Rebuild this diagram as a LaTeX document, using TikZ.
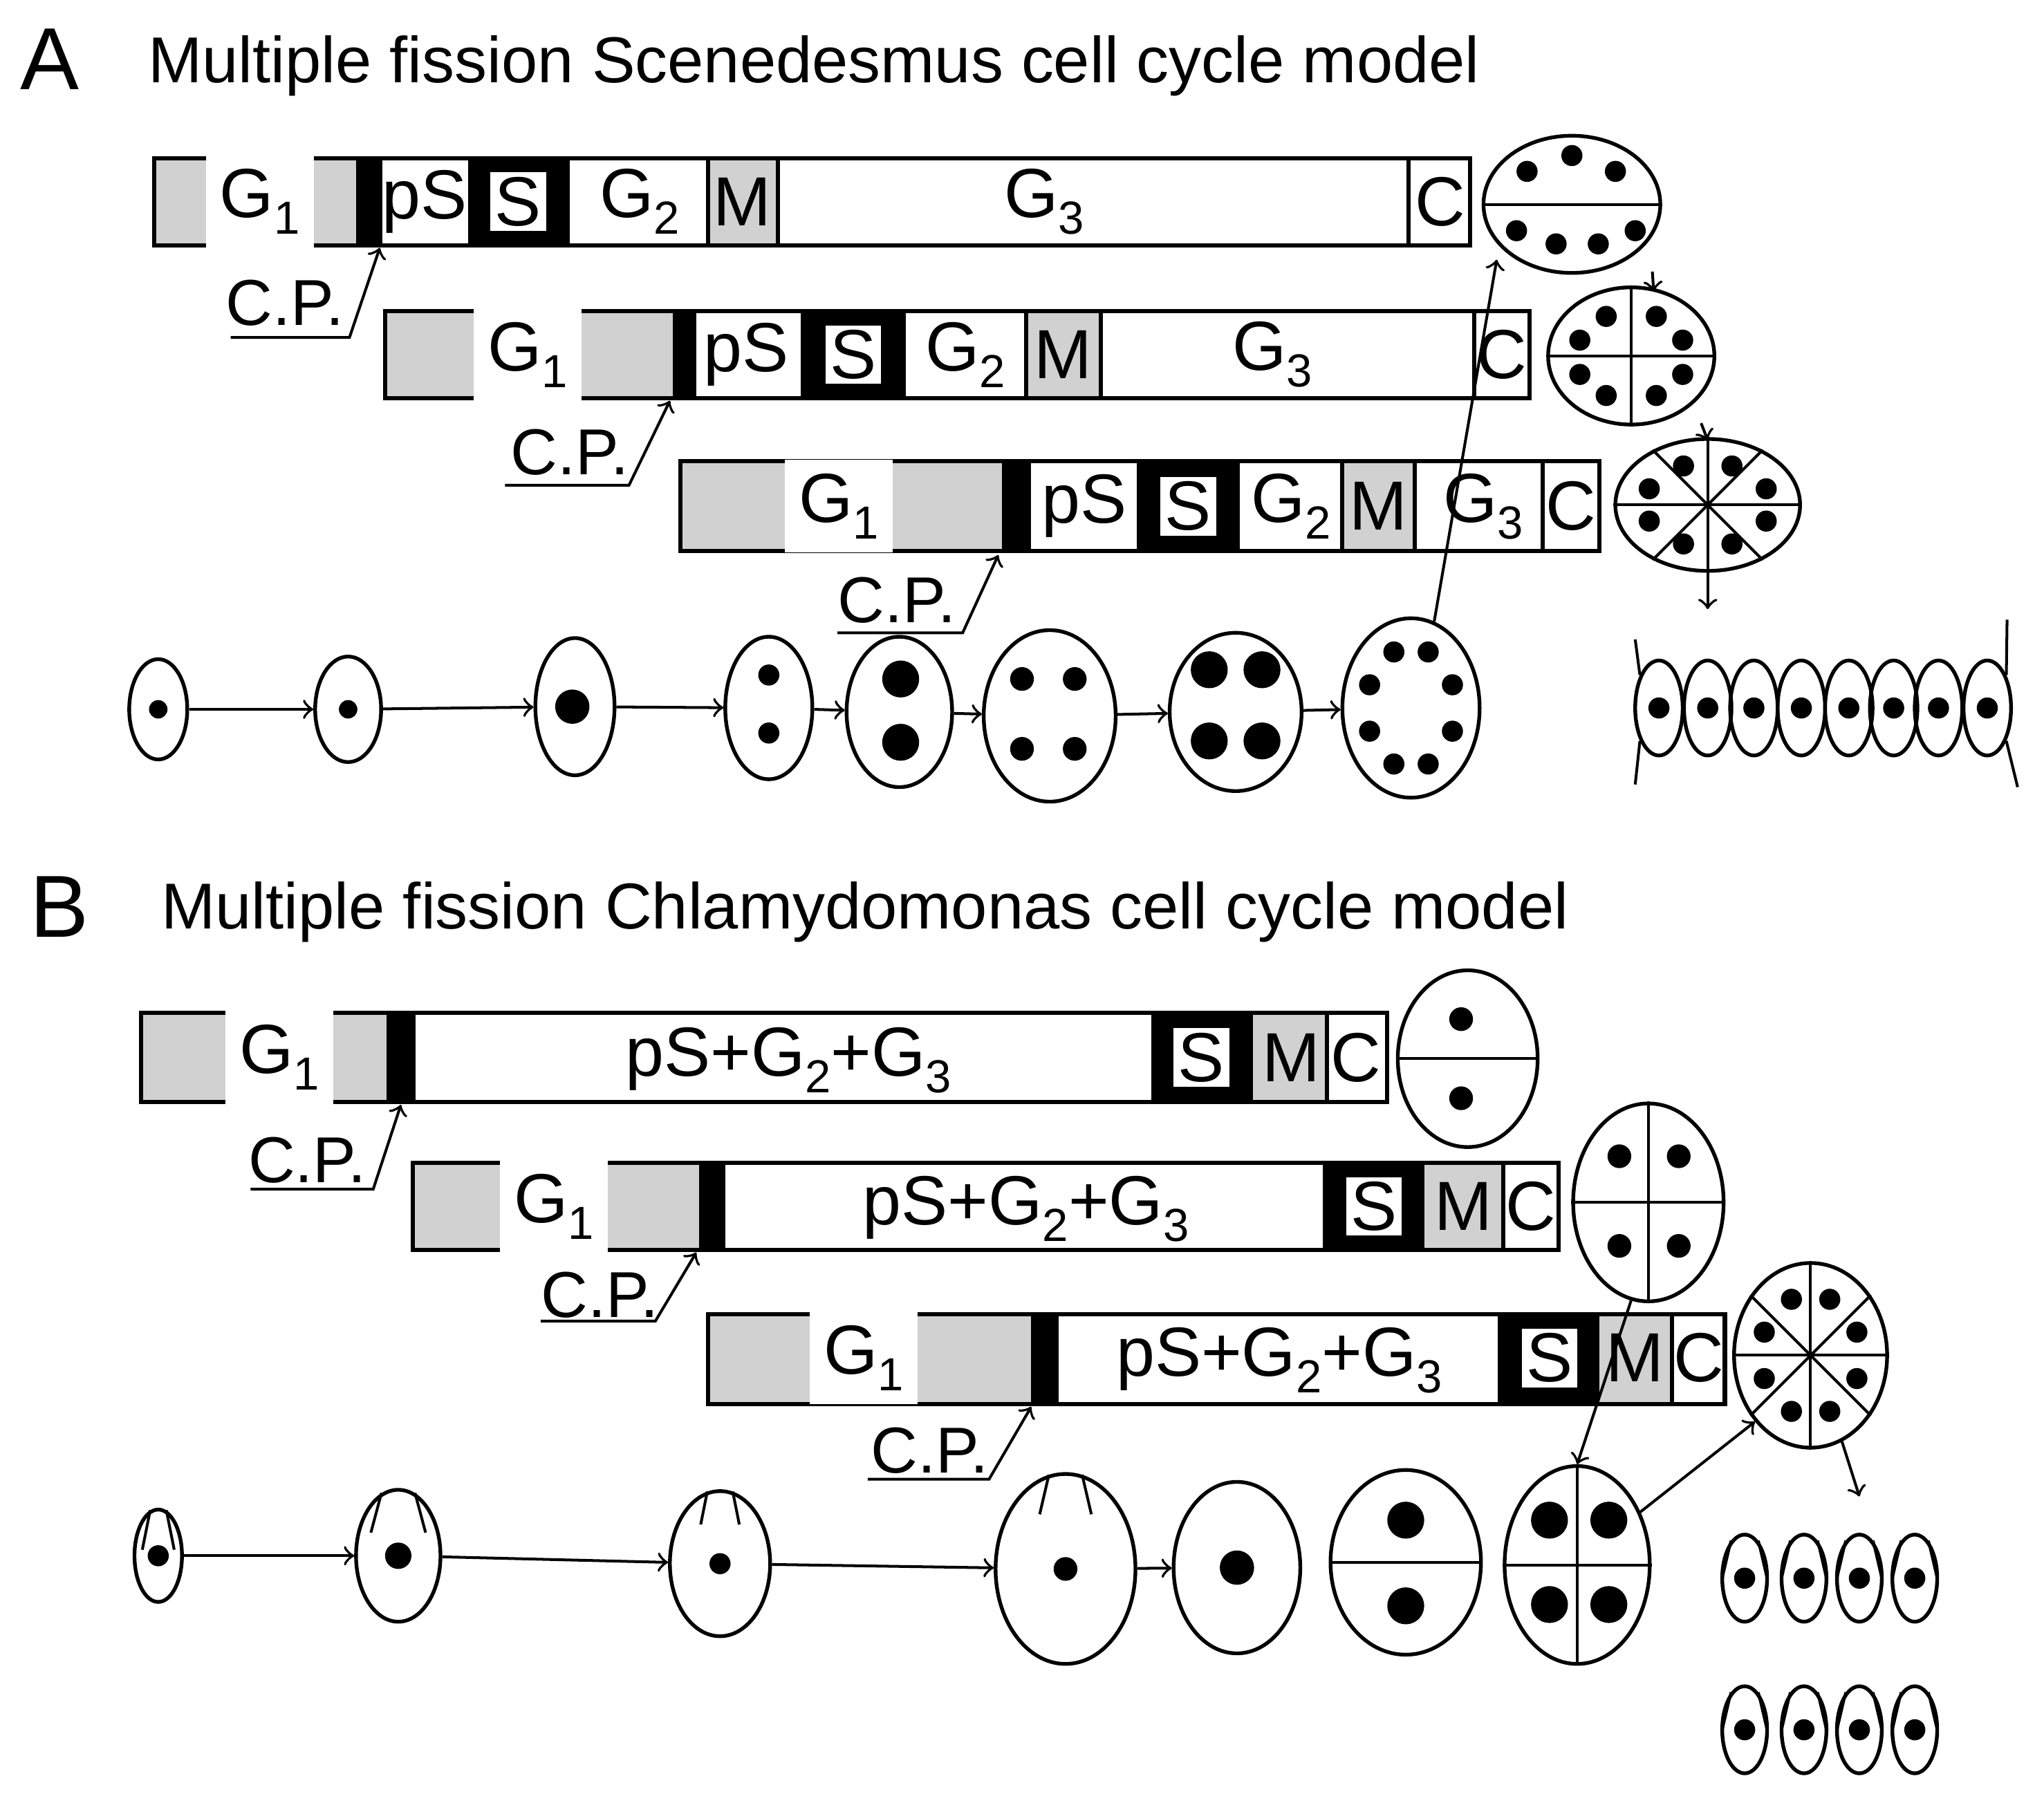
\documentclass[tikz,border=0pt]{standalone}
\usepackage{fontspec}
\setmainfont{Liberation Sans}
\usetikzlibrary{shapes.geometric}
\newcommand{\lsub}[1]{\raisebox{-0.45ex}{\fontsize{10}{10}\selectfont #1}}
\tikzset{
  bar/.style={draw=black, line width=0.9pt},
  grey/.style={fill=black!18},
  lab/.style={font=\fontsize{15}{15}\selectfont, inner sep=1pt},
  glab/.style={lab, fill=white, inner sep=3pt},
  sbox/.style={lab, fill=white, minimum width=0.42cm, minimum height=0.44cm},
  cp/.style={font=\fontsize{14}{14}\selectfont, inner sep=1pt},
  cell/.style={ellipse, draw=black, line width=0.8pt, inner sep=0pt},
  ln/.style={line width=0.6pt},
  arr/.style={->, line width=0.6pt},
  title/.style={font=\fontsize{14}{16}\selectfont, anchor=west},
}
\begin{document}
\begin{tikzpicture}[x=0.01cm, y=-0.01cm]
    \useasboundingbox (0,0) rectangle (1550,1374);

    % ---------------- panel A ----------------
    \node[font=\fontsize{19}{19}\selectfont] (A) at (38,45) {A};
    \node[title] (titleA) at (100,50) {Multiple fission Scenedesmus cell cycle model};

    % bar A1
    \fill[grey] (117,120) rectangle (270,186);
    \fill (270,120) rectangle (290,186);
    \fill (355,120) rectangle (432,186);
    \fill[grey] (537,120) rectangle (590,186);
    \draw[bar] (117,120) rectangle (1115,186);
    \draw[bar] (537,120) -- (537,186) (590,120) -- (590,186) (1068,120) -- (1068,186);
    \node[glab] (g1a) at (197,153) {G\lsub{1}};
    \node[lab] (psa) at (322,153) {pS};
    \node[sbox] (sa) at (393,153) {S};
    \node[lab] (g2a) at (485,153) {G\lsub{2}};
    \node[lab] (ma) at (563,153) {M};
    \node[lab] (g3a) at (792,153) {G\lsub{3}};
    \node[lab] (ca) at (1092,153) {C};
    \coordinate (cpa) at (288,188);
    \node[cp] (cpla) at (216,230) {C.P.};
    \draw[arr] (175,256) -- (265,256) -- (cpa);

    % bar A2
    \fill[grey] (292,236) rectangle (510,302);
    \fill (510,236) rectangle (528,302);
    \fill (607,236) rectangle (687,302);
    \fill[grey] (778,236) rectangle (835,302);
    \draw[bar] (292,236) rectangle (1160,302);
    \draw[bar] (778,236) -- (778,302) (835,236) -- (835,302) (1118,236) -- (1118,302);
    \node[glab] (g1b) at (400,269) {G\lsub{1}};
    \node[lab] (psb) at (566,269) {pS};
    \node[sbox] (sb) at (647,269) {S};
    \node[lab] (g2b) at (732,269) {G\lsub{2}};
    \node[lab] (mb) at (806,269) {M};
    \node[lab] (g3b) at (965,269) {G\lsub{3}};
    \node[lab] (cb) at (1139,269) {C};
    \coordinate (cpb) at (508,304);
    \node[cp] (cplb) at (432,343) {C.P.};
    \draw[arr] (383,368) -- (477,368) -- (cpb);

    % bar A3
    \fill[grey] (516,350) rectangle (760,418);
    \fill (760,350) rectangle (782,418);
    \fill (862,350) rectangle (940,418);
    \fill[grey] (1018,350) rectangle (1073,418);
    \draw[bar] (516,350) rectangle (1213,418);
    \draw[bar] (1018,350) -- (1018,418) (1073,350) -- (1073,418) (1170,350) -- (1170,418);
    \node[glab] (g1c) at (636,384) {G\lsub{1}};
    \node[lab] (psc) at (822,384) {pS};
    \node[sbox] (sc) at (901,384) {S};
    \node[lab] (g2c) at (979,384) {G\lsub{2}};
    \node[lab] (mc) at (1045,384) {M};
    \node[lab] (g3c) at (1125,384) {G\lsub{3}};
    \node[lab] (cc) at (1191,384) {C};
    \coordinate (cpc) at (757,421);
    \node[cp] (cplc) at (680,455) {C.P.};
    \draw[arr] (635,480) -- (730,480) -- (cpc);

    % coenobia on the right
    \node[cell, minimum width=1.34cm, minimum height=1.04cm] (e1) at (1192,155) {};
    \draw[ln] (e1.west) -- (e1.east);
    \foreach \x/\y in {1158/130,1192/118,1225/130,1150/175,1180/185,1212/185,1240/175}
        \fill (\x,\y) circle (8);
    \node[cell, minimum width=1.26cm, minimum height=1.04cm] (e2) at (1237,270) {};
    \draw[ln] (e2.west) -- (e2.east) (e2.north) -- (e2.south);
    \foreach \x/\y in {1198/258,1218/240,1256/240,1276/258,1198/284,1218/300,1256/300,1276/284}
        \fill (\x,\y) circle (8);
    \node[cell, minimum width=1.40cm, minimum height=1.00cm] (e3) at (1295,383) {};
    \foreach \a in {0,45,90,135}
        \draw[ln] (e3.\a) -- (e3.\a+180);
    \foreach \a in {22.5,67.5,...,337.5}
        \fill ({1295+48*cos(\a)},{383+32*sin(\a)}) circle (8);
    \draw[arr] (1253,206) -- (1254,221);
    \draw[arr] (1290,321) -- (1295,334);
    \draw[arr] (e3.south) -- (1295,462);

    % growth row
    \node[cell, minimum width=0.44cm, minimum height=0.76cm] (a1) at (120,538) {};
    \node[cell, minimum width=0.50cm, minimum height=0.80cm] (a2) at (264,538) {};
    \node[cell, minimum width=0.60cm, minimum height=1.04cm] (a3) at (436,536) {};
    \node[cell, minimum width=0.66cm, minimum height=1.08cm] (a4) at (583,537) {};
    \node[cell, minimum width=0.80cm, minimum height=1.14cm] (a5) at (682,540) {};
    \node[cell, minimum width=1.00cm, minimum height=1.30cm] (a6) at (796,543) {};
    \node[cell, minimum width=1.00cm, minimum height=1.20cm] (a7) at (937,540) {};
    \node[cell, minimum width=1.04cm, minimum height=1.36cm] (a8) at (1070,537) {};
    \fill (120,538) circle (7);
    \fill (264,538) circle (7);
    \fill (434,536) circle (13);
    \fill (583,512) circle (8) (583,556) circle (8);
    \fill (683,515) circle (14) (683,563) circle (14);
    \foreach \x/\y in {775/515,815/515,775/568,815/568} \fill (\x,\y) circle (9);
    \foreach \x/\y in {917/508,957/508,917/562,957/562} \fill (\x,\y) circle (14);
    \foreach \a in {0,45,...,315}
        \fill ({1070+34*cos(\a+22.5)},{537+46*sin(\a+22.5)}) circle (8);
    \foreach \p/\q in {a1/a2,a2/a3,a3/a4,a4/a5,a5/a6,a6/a7,a7/a8}
        \draw[arr] (\p) -- (\q);
    \draw[arr] (a8.75) -- (1135,197);

    % daughter cells
    \foreach \x [count=\i] in {1258,1295,1330,1366,1402,1436,1470,1507} {
        \node[cell, minimum width=0.36cm, minimum height=0.72cm] (d\i) at (\x,537) {};
        \fill (\x,537) circle (8);
    }
    \draw[ln] (d1.120) -- (1240,485) (d1.240) -- (1240,595);
    \draw[ln] (d8.60) -- (1522,470) (d8.300) -- (1530,597);

    % ---------------- panel B ----------------
    \node[font=\fontsize{19}{19}\selectfont] (B) at (45,688) {B};
    \node[title] (titleB) at (110,692) {Multiple fission Chlamydomonas cell cycle model};

    % bar B1
    \fill[grey] (107,768) rectangle (293,836);
    \fill (293,768) rectangle (315,836);
    \fill (873,768) rectangle (950,836);
    \fill[grey] (950,768) rectangle (1006,836);
    \draw[bar] (107,768) rectangle (1052,836);
    \draw[bar] (1006,768) -- (1006,836);
    \node[glab] (g1d) at (212,802) {G\lsub{1}};
    \node[lab] (pgd) at (598,804) {pS+G\lsub{2}+G\lsub{3}};
    \node[sbox] (sd) at (911,802) {S};
    \node[lab] (md) at (979,802) {M};
    \node[lab] (cd) at (1028,802) {C};
    \coordinate (cpd) at (304,838);
    \node[cp] (cpld) at (233,880) {C.P.};
    \draw[arr] (190,902) -- (283,902) -- (cpd);

    % bar B2
    \fill[grey] (313,882) rectangle (530,948);
    \fill (530,882) rectangle (550,948);
    \fill (1003,882) rectangle (1080,948);
    \fill[grey] (1080,882) rectangle (1140,948);
    \draw[bar] (313,882) rectangle (1182,948);
    \draw[bar] (1140,882) -- (1140,948);
    \node[glab] (g1e) at (420,915) {G\lsub{1}};
    \node[lab] (pge) at (778,917) {pS+G\lsub{2}+G\lsub{3}};
    \node[sbox] (se) at (1042,915) {S};
    \node[lab] (me) at (1110,915) {M};
    \node[lab] (ce) at (1161,915) {C};
    \coordinate (cpe) at (528,950);
    \node[cp] (cple) at (455,982) {C.P.};
    \draw[arr] (410,1002) -- (497,1002) -- (cpe);

    % bar B3
    \fill[grey] (537,997) rectangle (782,1065);
    \fill (782,997) rectangle (803,1065);
    \fill (1136,997) rectangle (1213,1065);
    \fill[grey] (1213,997) rectangle (1268,1065);
    \draw[bar] (537,997) rectangle (1308,1065);
    \draw[bar] (1268,997) -- (1268,1065);
    \node[glab] (g1f) at (655,1030) {G\lsub{1}};
    \node[lab] (pgf) at (970,1032) {pS+G\lsub{2}+G\lsub{3}};
    \node[sbox] (sf) at (1175,1030) {S};
    \node[lab] (mf) at (1240,1030) {M};
    \node[lab] (cf) at (1288,1030) {C};
    \coordinate (cpf) at (782,1067);
    \node[cp] (cplf) at (705,1100) {C.P.};
    \draw[arr] (658,1122) -- (750,1122) -- (cpf);

    % dividing cells on the right
    \node[cell, minimum width=1.06cm, minimum height=1.34cm] (f1) at (1113,803) {};
    \draw[ln] (f1.west) -- (f1.east);
    \fill (1108,773) circle (9) (1108,833) circle (9);
    \node[cell, minimum width=1.14cm, minimum height=1.50cm] (f2) at (1250,912) {};
    \draw[ln] (f2.west) -- (f2.east) (f2.north) -- (f2.south);
    \foreach \x/\y in {1228,1273} \fill (\x,877) circle (9) (\x,945) circle (9);
    \node[cell, minimum width=1.16cm, minimum height=1.40cm] (f3) at (1373,1028) {};
    \foreach \a in {0,45,90,135}
        \draw[ln] (f3.\a) -- (f3.\a+180);
    \foreach \a in {22.5,67.5,...,337.5}
        \fill ({1373+38*cos(\a)},{1028+46*sin(\a)}) circle (8);

    % growth row
    \node[cell, minimum width=0.36cm, minimum height=0.70cm] (b1) at (120,1180) {};
    \node[cell, minimum width=0.64cm, minimum height=1.00cm] (b2) at (302,1180) {};
    \node[cell, minimum width=0.76cm, minimum height=1.10cm] (b3) at (546,1186) {};
    \node[cell, minimum width=1.06cm, minimum height=1.44cm] (b4) at (808,1190) {};
    \node[cell, minimum width=0.96cm, minimum height=1.30cm] (b5) at (938,1189) {};
    \node[cell, minimum width=1.14cm, minimum height=1.40cm] (b6) at (1066,1185) {};
    \node[cell, minimum width=1.10cm, minimum height=1.50cm] (b7) at (1196,1187) {};
    \fill (120,1180) circle (8);
    \fill (302,1180) circle (10);
    \fill (546,1186) circle (8);
    \fill (808,1190) circle (9);
    \fill (938,1189) circle (13);
    \draw[ln] (b6.west) -- (b6.east);
    \fill (1066,1153) circle (14) (1066,1218) circle (14);
    \draw[ln] (b7.west) -- (b7.east) (b7.north) -- (b7.south);
    \foreach \x/\y in {1175/1153,1220/1153,1175/1217,1220/1217} \fill (\x,\y) circle (14);
    \draw[ln] (b1.100) -- ++(-6,30) (b1.80) -- ++(6,30);
    \draw[ln] (b2.105) -- ++(-8,30) (b2.75) -- ++(8,30);
    \draw[ln] (b3.100) -- ++(-5,25) (b3.80) -- ++(5,25);
    \draw[ln] (b4.100) -- ++(-7,30) (b4.80) -- ++(7,30);
    \foreach \p/\q in {b1/b2,b2/b3,b3/b4,b4/b5}
        \draw[arr] (\p) -- (\q);
    \draw[arr] (f2.260) -- (b7.north);
    \draw[arr] (b7.40) -- (f3.230);
    \draw[arr] (f3.290) -- (1410,1135);

    % zoospores
    \foreach \y [count=\j] in {1197,1312}
      \foreach \x [count=\i] in {1323,1368,1410,1452} {
        \node[cell, minimum width=0.34cm, minimum height=0.66cm] (z\j\i) at (\x,\y) {};
        \fill (\x,\y) circle (8);
        \draw[ln] (z\j\i.110) -- ++(-7,30) (z\j\i.70) -- ++(7,30);
      }
\end{tikzpicture}
\end{document}
